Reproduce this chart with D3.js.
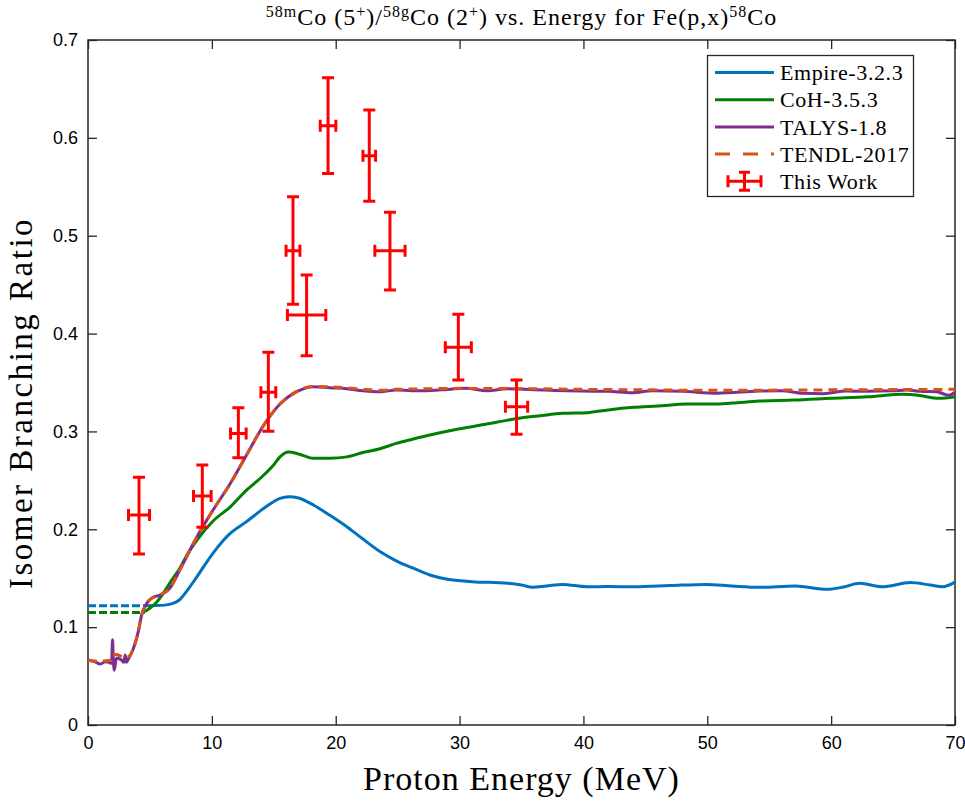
<!DOCTYPE html>
<html>
<head>
<meta charset="utf-8">
<script src="https://cdn.jsdelivr.net/npm/d3@7"></script>
<style>
    body { margin: 0; background: white; }
</style>
</head>
<body>
<script>
//Data
const empireDashE = [0, 4.6];
const empireDashV = [0.1219, 0.1219];
const empireE = [4.6, 5.5, 6.2, 6.8, 7.4, 8.1, 8.8, 10.1, 11.5, 12.8, 14.2, 15.5, 16.2, 17.0, 18.2, 19.5, 20.9, 22.2, 23.6, 25.0, 26.3, 27.6, 29.0, 31.0, 33.9, 35.0, 35.9, 37.0, 38.3, 40.3, 42.0, 44.1, 47.0, 49.9, 52.0, 54.2, 57.1, 59.7, 61.0, 62.3, 64.1, 66.4, 68.0, 69.0, 70.0];
const empireV = [0.1219, 0.122, 0.1225, 0.124, 0.128, 0.139, 0.1516, 0.1757, 0.196, 0.2078, 0.2214, 0.2316, 0.2333, 0.232, 0.2248, 0.2145, 0.2026, 0.190, 0.177, 0.167, 0.160, 0.1533, 0.149, 0.1465, 0.1448, 0.143, 0.1407, 0.142, 0.1437, 0.1413, 0.1415, 0.1413, 0.1425, 0.1437, 0.142, 0.1407, 0.142, 0.1386, 0.141, 0.1448, 0.1413, 0.1455, 0.143, 0.1413, 0.146];

const cohDashE = [0, 4.6];
const cohDashV = [0.1150, 0.1150];
const cohE = [4.6, 5.5, 6.0, 6.6, 7.4, 8.1, 8.8, 10.1, 11.5, 12.8, 13.6, 14.2, 15.0, 15.5, 16.2, 17.0, 18.2, 19.5, 20.9, 22.2, 23.5, 24.9, 26.2, 27.6, 29.5, 32.0, 34.8, 36.5, 38.3, 40.3, 42.0, 44.1, 46.0, 48.4, 50.5, 52.0, 54.2, 57.0, 60.0, 63.0, 65.8, 67.0, 68.7, 70.0];
const cohV = [0.1160, 0.125, 0.133, 0.145, 0.160, 0.176, 0.189, 0.2085, 0.223, 0.240, 0.2486, 0.2555, 0.266, 0.274, 0.279, 0.277, 0.2725, 0.2725, 0.274, 0.2785, 0.282, 0.2878, 0.292, 0.2963, 0.3014, 0.307, 0.3134, 0.316, 0.3185, 0.3192, 0.322, 0.3246, 0.326, 0.328, 0.328, 0.329, 0.331, 0.332, 0.3338, 0.3355, 0.3379, 0.337, 0.3338, 0.3355];

const talysE = [0, 0.5, 1.0, 1.4, 1.7, 1.9, 1.98, 2.05, 2.12, 2.3, 2.7, 2.9, 3.0, 3.1, 3.3, 3.66, 4.06, 4.33, 4.74, 5.27, 5.8, 6.6, 7.4, 8.8, 10.1, 11.5, 12.8, 14.2, 15.5, 16.85, 18.2, 19.5, 20.9, 22.2, 23.6, 24.9, 26.8, 28.5, 30.5, 32.2, 33.9, 36.0, 39.7, 42.0, 43.9, 45.6, 48.0, 50.8, 54.2, 56.0, 57.7, 59.4, 61.2, 62.9, 65.0, 66.1, 67.2, 68.5, 69.5, 70.0];
const talysV = [0.0664, 0.065, 0.0623, 0.0647, 0.064, 0.063, 0.087, 0.066, 0.056, 0.0685, 0.0664, 0.064, 0.0715, 0.064, 0.0685, 0.078, 0.0954, 0.1124, 0.1243, 0.1305, 0.1328, 0.1397, 0.158, 0.1924, 0.2197, 0.247, 0.2759, 0.3066, 0.328, 0.3406, 0.3457, 0.3447, 0.3437, 0.3416, 0.3406, 0.3423, 0.3416, 0.3425, 0.344, 0.3416, 0.3437, 0.3425, 0.3413, 0.341, 0.3396, 0.3416, 0.341, 0.339, 0.3413, 0.3416, 0.339, 0.3386, 0.3413, 0.341, 0.3415, 0.3423, 0.341, 0.3405, 0.337, 0.340];

const tendlE = [0, 1.0, 1.6, 1.9, 2.0, 2.3, 2.7, 3.0, 3.3, 3.66, 4.06, 4.33, 4.74, 5.27, 5.8, 6.6, 7.4, 8.8, 10.1, 11.5, 12.8, 14.2, 15.5, 16.85, 18.2, 19.5, 20.9, 22.2, 23.6, 24.9, 26.8, 30, 35, 40, 45, 50, 55, 60, 65, 70];
const tendlV = [0.066, 0.065, 0.066, 0.066, 0.072, 0.072, 0.070, 0.069, 0.070, 0.078, 0.0954, 0.1124, 0.1243, 0.1305, 0.1328, 0.1397, 0.158, 0.1924, 0.2197, 0.247, 0.2759, 0.3066, 0.328, 0.341, 0.346, 0.3455, 0.3445, 0.343, 0.342, 0.343, 0.3435, 0.344, 0.3438, 0.343, 0.3425, 0.342, 0.3422, 0.3425, 0.3428, 0.343];

//Measured points (This Work)
const expE = [4.12, 9.23, 12.14, 14.56, 16.55, 17.65, 19.38, 22.71, 24.38, 29.9, 34.6];
const expEerr = [0.85, 0.71, 0.63, 0.6, 0.56, 1.55, 0.63, 0.51, 1.22, 1.05, 0.9];
const expV = [0.2146, 0.234, 0.298, 0.340, 0.4847, 0.419, 0.6124, 0.5818, 0.4847, 0.386, 0.3253];
const expLo = [0.1747, 0.2020, 0.2732, 0.3001, 0.4299, 0.3774, 0.5635, 0.5351, 0.4445, 0.3525, 0.297];
const expHi = [0.2531, 0.2657, 0.3243, 0.3808, 0.5399, 0.4598, 0.6615, 0.6285, 0.5239, 0.4197, 0.3525];

//Ticks and labels
const xTicks = [0, 10, 20, 30, 40, 50, 60, 70];
const yTicks = [0, 0.1, 0.2, 0.3, 0.4, 0.5, 0.6, 0.7];
const legendNames = ["Empire-3.2.3", "CoH-3.5.3", "TALYS-1.8", "TENDL-2017", "This Work"];

//Variables
const width = 965;
const height = 803;
const margin = {left: 88, right: 10, top: 40, bottom: 78};
const colors = {empire: "#0072BD", coh: "#008000", talys: "#7E2F8E", tendl: "#D95319", exp: "#FF0000"};
const serif = "'Liberation Serif', 'Times New Roman', serif";
const sans = "'Liberation Sans', Arial, sans-serif";

const svg = d3.select("body")
    .append("svg")
    .attr("width", width)
    .attr("height", height)
    .style("background-color", "white");

const xScale = d3.scaleLinear()
    .domain([0, 70])
    .range([margin.left, width - margin.right]);

const yScale = d3.scaleLinear()
    .domain([0, 0.7])
    .range([height - margin.bottom, margin.top]);

//Axes
const axisColor = "#262626";
const styleAxis = g => {
    g.select(".domain").remove();
    g.selectAll("line").attr("stroke", axisColor).attr("stroke-width", 1.3);
    g.selectAll("text").attr("fill", "#000").style("font-family", sans).style("font-size", "18px");
};

svg.append("g")
    .attr("transform", `translate(0, ${yScale(0)})`)
    .call(d3.axisBottom(xScale).tickValues(xTicks).tickSizeInner(-9).tickSizeOuter(0).tickPadding(11).tickFormat(d3.format("d")))
    .call(styleAxis);

svg.append("g")
    .attr("transform", `translate(0, ${yScale(0.7)})`)
    .call(d3.axisTop(xScale).tickValues(xTicks).tickSizeInner(-9).tickSizeOuter(0).tickFormat(""))
    .call(styleAxis);

svg.append("g")
    .attr("transform", `translate(${xScale(0)}, 0)`)
    .call(d3.axisLeft(yScale).tickValues(yTicks).tickSizeInner(-9).tickSizeOuter(0).tickPadding(10).tickFormat(d => d === 0 ? "0" : d3.format(".1f")(d)))
    .call(styleAxis);

svg.append("g")
    .attr("transform", `translate(${xScale(70)}, 0)`)
    .call(d3.axisRight(yScale).tickValues(yTicks).tickSizeInner(-9).tickSizeOuter(0).tickFormat(""))
    .call(styleAxis);

//Box
svg.append("rect")
    .attr("x", xScale(0))
    .attr("y", yScale(0.7))
    .attr("width", xScale(70) - xScale(0))
    .attr("height", yScale(0) - yScale(0.7))
    .attr("fill", "none")
    .attr("stroke", axisColor)
    .attr("stroke-width", 1.5);

//Lines
const line = d3.line()
    .x(d => xScale(d[0]))
    .y(d => yScale(d[1]))
    .curve(d3.curveMonotoneX);

const plotArea = svg.append("g");

const drawSeries = (es, vs, color, dash) => {
    plotArea.append("path")
        .datum(es.map((e, i) => [e, vs[i]]))
        .attr("d", line)
        .attr("fill", "none")
        .attr("stroke", color)
        .attr("stroke-width", 3)
        .attr("stroke-dasharray", dash)
        .attr("stroke-linejoin", "round");
};

drawSeries(empireDashE, empireDashV, colors.empire, "8,3");
drawSeries(cohDashE, cohDashV, colors.coh, "8,3");
drawSeries(empireE, empireV, colors.empire, null);
drawSeries(cohE, cohV, colors.coh, null);
drawSeries(talysE, talysV, colors.talys, null);
drawSeries(tendlE, tendlV, colors.tendl, "9,6");

//Error bars
const cap = 6;
const errGroup = svg.append("g")
    .attr("stroke", colors.exp)
    .attr("stroke-width", 3)
    .attr("fill", "none");

expE.forEach((e, i) => {
    const cx = xScale(e);
    const cy = yScale(expV[i]);
    const x0 = xScale(e - expEerr[i]);
    const x1 = xScale(e + expEerr[i]);
    const y0 = yScale(expLo[i]);
    const y1 = yScale(expHi[i]);
    const p = d3.path();
    p.moveTo(cx, y0); p.lineTo(cx, y1);
    p.moveTo(cx - cap, y0); p.lineTo(cx + cap, y0);
    p.moveTo(cx - cap, y1); p.lineTo(cx + cap, y1);
    p.moveTo(x0, cy); p.lineTo(x1, cy);
    p.moveTo(x0, cy - cap); p.lineTo(x0, cy + cap);
    p.moveTo(x1, cy - cap); p.lineTo(x1, cy + cap);
    errGroup.append("path").attr("d", p.toString());
});

//Legend
const legend = svg.append("g");
legend.append("rect")
    .attr("x", 707.5)
    .attr("y", 55.5)
    .attr("width", 206)
    .attr("height", 141)
    .attr("fill", "white")
    .attr("stroke", axisColor)
    .attr("stroke-width", 1.3);

const legendColors = [colors.empire, colors.coh, colors.talys, colors.tendl, colors.exp];
const legendDash = [null, null, null, "15,13", null];

legendNames.forEach((name, i) => {
    const ly = 72.5 + i * 27.2;
    if (i < 4) {
        legend.append("line")
            .attr("x1", 715).attr("x2", 774)
            .attr("y1", ly).attr("y2", ly)
            .attr("stroke", legendColors[i])
            .attr("stroke-width", 3)
            .attr("stroke-dasharray", legendDash[i]);
    } else {
        const p = d3.path();
        p.moveTo(728, ly); p.lineTo(761, ly);
        p.moveTo(728, ly - 6); p.lineTo(728, ly + 6);
        p.moveTo(761, ly - 6); p.lineTo(761, ly + 6);
        p.moveTo(744.5, ly - 9); p.lineTo(744.5, ly + 9);
        p.moveTo(739, ly - 9); p.lineTo(750, ly - 9);
        p.moveTo(739, ly + 9); p.lineTo(750, ly + 9);
        legend.append("path")
            .attr("d", p.toString())
            .attr("stroke", colors.exp)
            .attr("stroke-width", 3)
            .attr("fill", "none");
    }
    legend.append("text")
        .attr("x", 780)
        .attr("y", ly)
        .attr("dy", "0.35em")
        .style("font-family", serif)
        .style("font-size", "22px")
        .style("letter-spacing", "0.6px")
        .text(name);
});

//Title
const title = svg.append("text")
    .attr("x", (xScale(0) + xScale(70)) / 2)
    .attr("y", 25)
    .attr("text-anchor", "middle")
    .style("font-family", serif)
    .style("font-size", "24px")
    .style("letter-spacing", "1px");

const sup = (t, s) => t.append("tspan").attr("dy", -8).style("font-size", "16px").text(s);
const base = (t, s) => t.append("tspan").attr("dy", 8).text(s);

sup(title, "58m");
base(title, "Co (5");
sup(title, "+");
base(title, ")/");
sup(title, "58g");
base(title, "Co (2");
sup(title, "+");
base(title, ") vs.  Energy for Fe(p,x)");
sup(title, "58");
base(title, "Co");

//Axis labels
svg.append("text")
    .attr("x", (xScale(0) + xScale(70)) / 2)
    .attr("y", 790)
    .attr("text-anchor", "middle")
    .style("font-family", serif)
    .style("font-size", "34px")
    .style("letter-spacing", "1px")
    .text("Proton Energy (MeV)");

svg.append("text")
    .attr("transform", "translate(32, 403) rotate(-90)")
    .attr("text-anchor", "middle")
    .style("font-family", serif)
    .style("font-size", "33px")
    .style("letter-spacing", "2.5px")
    .text("Isomer Branching Ratio");
</script>
</body>
</html>
